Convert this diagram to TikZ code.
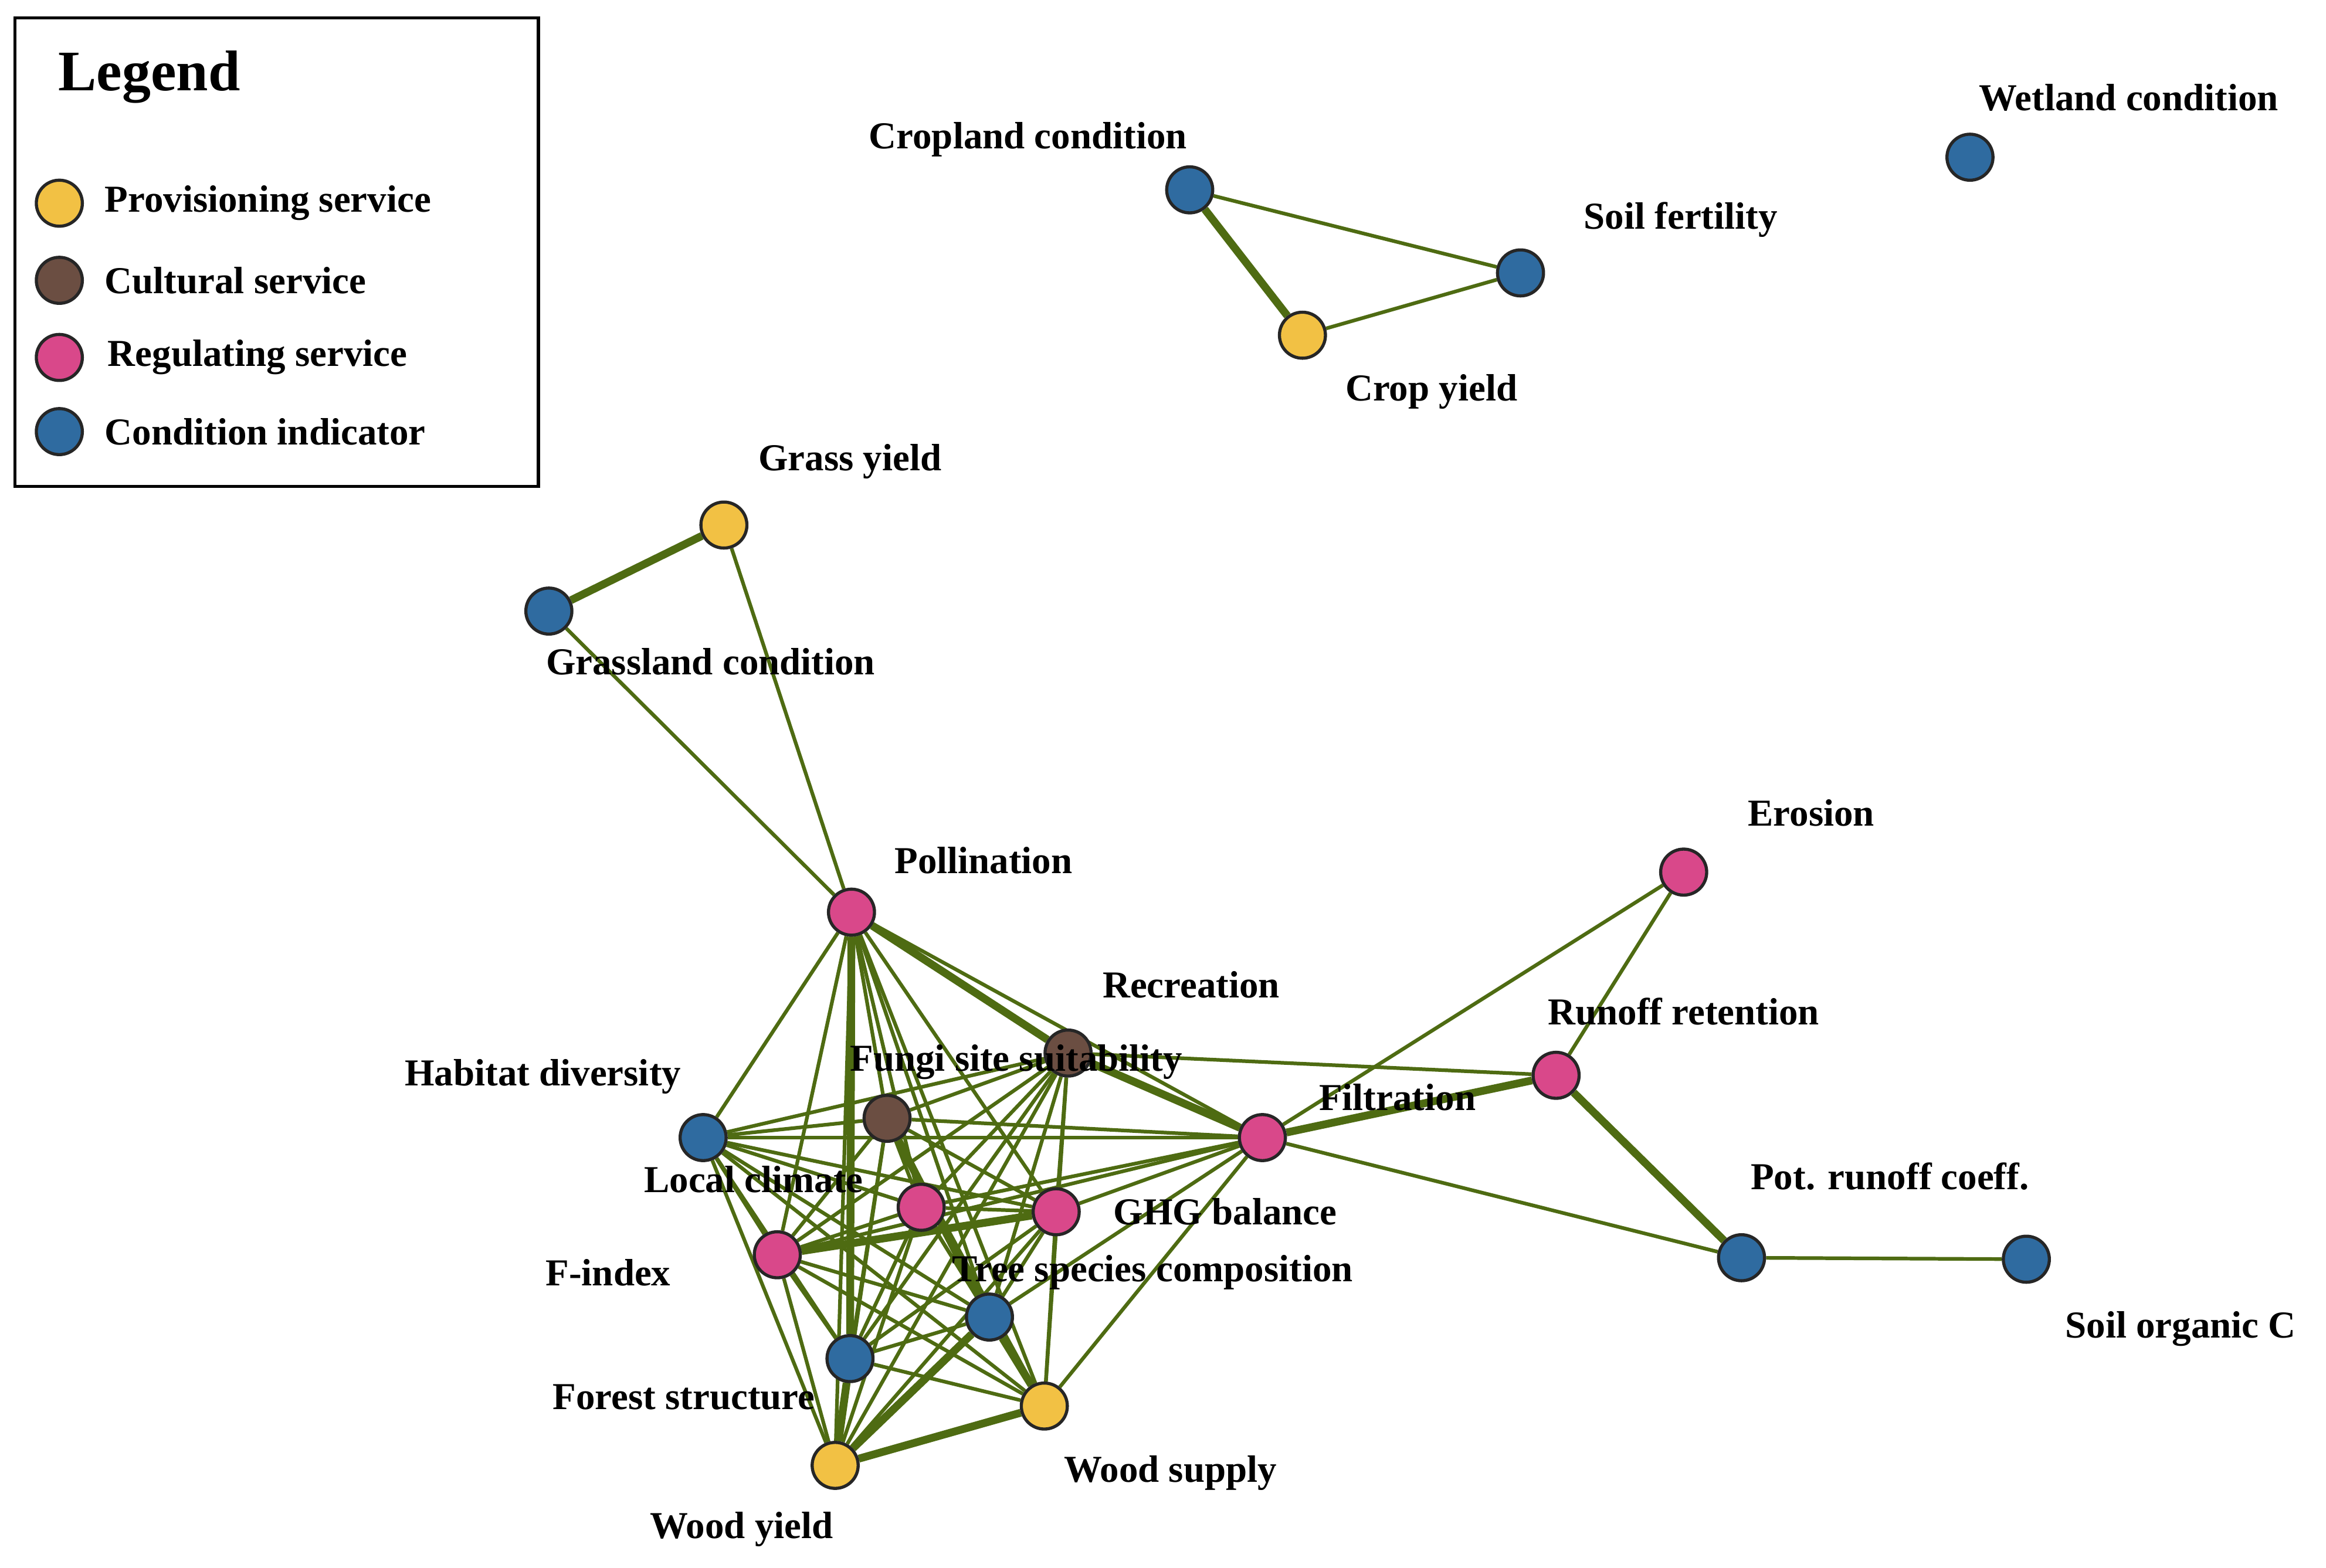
\documentclass[tikz,border=0pt]{standalone}
\usepackage{fontspec}
\setmainfont{Liberation Serif}
\usetikzlibrary{backgrounds}
\definecolor{prov}{HTML}{F2C144}
\definecolor{cult}{HTML}{6B4E42}
\definecolor{regu}{HTML}{D9488A}
\definecolor{cond}{HTML}{2F6BA0}
\definecolor{link}{HTML}{4E6B12}
\tikzset{
  svc/.style={circle, draw=black!85, line width=0.6pt, minimum size=0.31cm, inner sep=0pt},
  prov/.style={svc, fill=prov},
  cult/.style={svc, fill=cult},
  regu/.style={svc, fill=regu},
  cond/.style={svc, fill=cond},
  lab/.style={font=\fontsize{7.3}{8}\selectfont\bfseries, inner sep=0pt},
  e/.style={draw=link, line width=0.7pt},
  E/.style={draw=link, line width=1.5pt},
}
\begin{document}
\begin{tikzpicture}[x=0.01cm, y=-0.01cm]

  \useasboundingbox (0,0) rectangle (1568,1057);

  % Legend
  \draw[line width=0.6pt] (10,12) rectangle (363,328);
  \node[font=\fontsize{11}{13}\selectfont\bfseries, anchor=west] (legtitle) at (27,52) {Legend};
  \node[prov] (lg1) at (40,137) {};
  \node[cult] (lg2) at (40,189) {};
  \node[regu] (lg3) at (40,241) {};
  \node[cond] (lg4) at (40,291) {};
  \node[lab, anchor=west] at (70,137) {Provisioning service};
  \node[lab, anchor=west] at (70,189) {Cultural service};
  \node[lab, anchor=west] at (72,241) {Regulating service};
  \node[lab, anchor=west] at (70,291) {Condition indicator};

  % Nodes
  \node[cond] (Crop) at (802,128) {};
  \node[cond] (Soil) at (1025,184) {};
  \node[prov] (CropY) at (878,226) {};
  \node[cond] (Wet) at (1328,106) {};
  \node[prov] (Grass) at (488,354) {};
  \node[cond] (GrassC) at (370,412) {};
  \node[regu] (Poll) at (574,615) {};
  \node[cult] (Rec) at (720,710) {};
  \node[cult] (Fungi) at (598,754) {};
  \node[cond] (Hab) at (474,767) {};
  \node[regu] (Filt) at (851,767) {};
  \node[regu] (Run) at (1049,725) {};
  \node[regu] (Ero) at (1135,588) {};
  \node[cond] (Pot) at (1174,848) {};
  \node[cond] (SOC) at (1366,849) {};
  \node[regu] (Loc) at (621,814) {};
  \node[regu] (GHG) at (712,817) {};
  \node[regu] (Find) at (524,846) {};
  \node[cond] (Tree) at (667,888) {};
  \node[cond] (Fstr) at (573,916) {};
  \node[prov] (Wsup) at (704,948) {};
  \node[prov] (Wyld) at (563,988) {};

  % Links
  \begin{scope}[on background layer]
    \draw[E] (Crop) -- (CropY);
    \draw[e] (Crop) -- (Soil);
    \draw[e] (CropY) -- (Soil);
    \draw[E] (Grass) -- (GrassC);
    \draw[e] (Grass) -- (Poll);
    \draw[e] (GrassC) -- (Poll);
    \draw[e] (Ero) -- (Filt);
    \draw[e] (Ero) -- (Run);
    \draw[E] (Run) -- (Filt);
    \draw[e] (Run) -- (Rec);
    \draw[E] (Run) -- (Pot);
    \draw[e] (Filt) -- (Pot);
    \draw[e] (Pot) -- (SOC);
    \foreach \a [count=\i] in {Poll,Rec,Fungi,Hab,Loc,GHG,Find,Tree,Fstr,Wsup,Wyld}
      \foreach \b [count=\j] in {Poll,Rec,Fungi,Hab,Loc,GHG,Find,Tree,Fstr,Wsup,Wyld}
        {\ifnum\j>\i \draw[e] (\a) -- (\b); \fi}
    \foreach \b in {Poll,Rec,Fungi,Hab,Loc,GHG,Find,Tree,Wsup}
      \draw[e] (Filt) -- (\b);
    \draw[E] (Poll) -- (Fstr);
    \draw[E] (Poll) -- (Rec);
    \draw[E] (Fungi) -- (Tree);
    \draw[E] (Wyld) -- (Wsup);
    \draw[E] (Wyld) -- (Tree);
    \draw[E] (Wyld) -- (Fstr);
    \draw[E] (Tree) -- (Wsup);
    \draw[E] (Find) -- (GHG);
    \draw[E] (Rec) -- (Filt);
  \end{scope}

  % Labels
  \node[lab] at (693,94) {Cropland condition};
  \node[lab] at (1133,148) {Soil fertility};
  \node[lab] at (965,264) {Crop yield};
  \node[lab] at (1435,66) {Wetland condition};
  \node[lab] at (573,311) {Grass yield};
  \node[lab] at (479,446) {Grassland condition};
  \node[lab] at (663,580) {Pollination};
  \node[lab] at (803,664) {Recreation};
  \node[lab] at (685,716) {Fungi site suitability};
  \node[lab] at (366,726) {Habitat diversity};
  \node[lab] at (942,740) {Filtration};
  \node[lab] at (1135,682) {Runoff retention};
  \node[lab] at (1221,548) {Erosion};
  \node[lab] at (1274,793) {Pot. runoff coeff.};
  \node[lab] at (1470,896) {Soil organic C};
  \node[lab] at (508,795) {Local climate};
  \node[lab] at (826,817) {GHG balance};
  \node[lab] at (410,858) {F-index};
  \node[lab] at (777,858) {Tree species composition};
  \node[lab] at (461,942) {Forest structure};
  \node[lab] at (789,993) {Wood supply};
  \node[lab] at (500,1031) {Wood yield};

\end{tikzpicture}
\end{document}
